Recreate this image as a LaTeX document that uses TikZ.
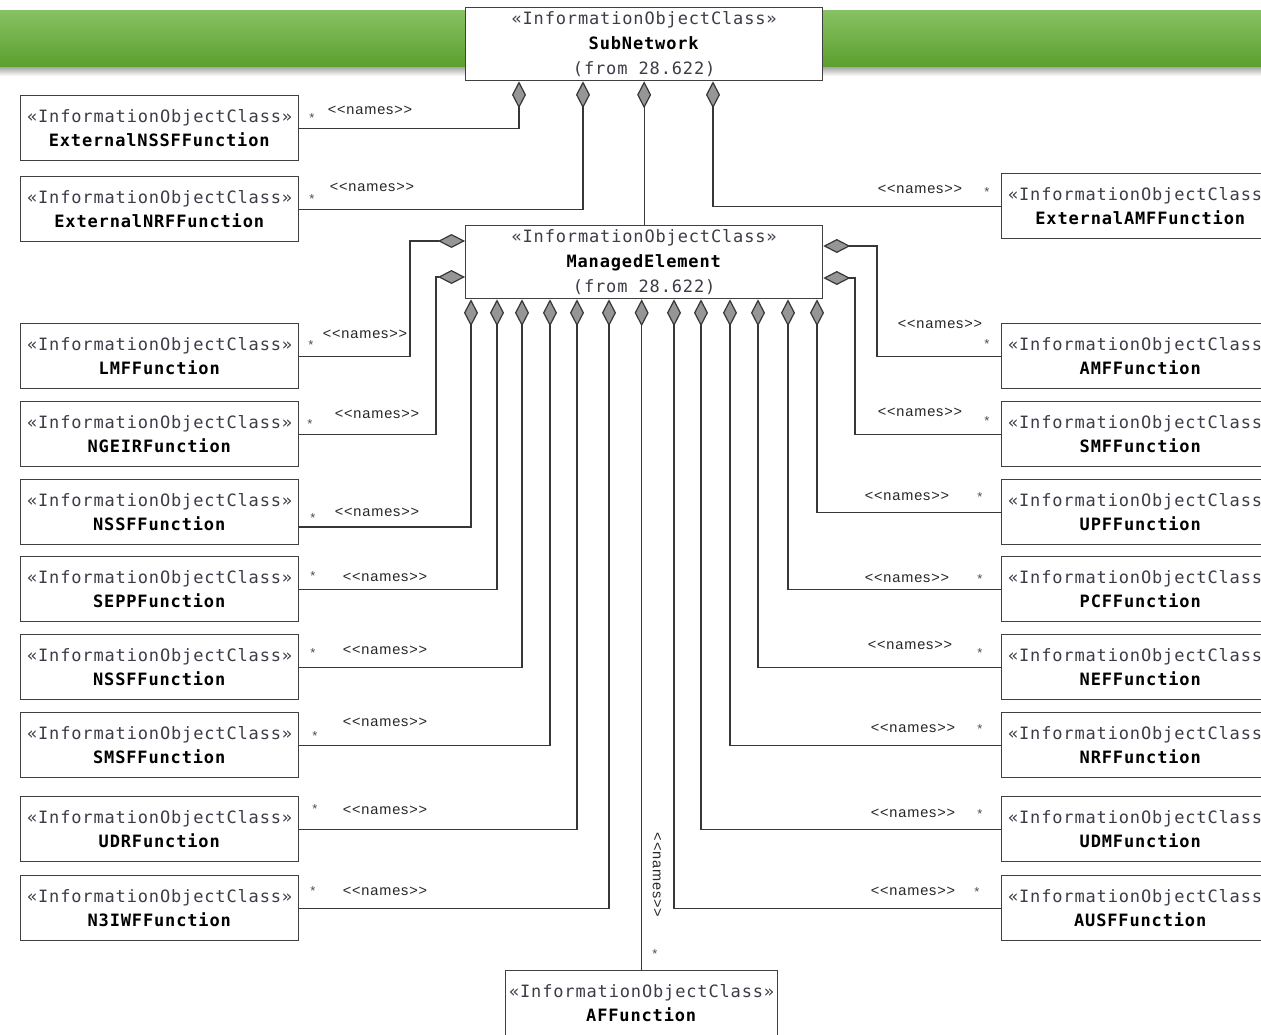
\documentclass[tikz,border=0pt]{standalone}
\usepackage{fontspec}
\setmainfont{Liberation Sans}
\setmonofont{DejaVu Sans Mono}[LetterSpace=5]
\newfontfamily\lblfont{Liberation Sans}[LetterSpace=6]
\usetikzlibrary{arrows.meta}
\definecolor{stereo}{RGB}{60,60,72}
\definecolor{lnk}{RGB}{55,55,55}
\definecolor{dia}{RGB}{150,150,150}
\definecolor{grtop}{RGB}{136,194,100}
\definecolor{grbot}{RGB}{92,158,46}
\begin{document}
\begin{tikzpicture}[x=1pt,y=-1pt,
  ioc/.style={draw=black!75,line width=1.3pt,fill=white,anchor=north west,inner sep=0pt,
    minimum width=278pt,minimum height=65pt,align=center,
    font=\ttfamily\fontsize{17}{24}\selectfont},
  big/.style={ioc,minimum width=357pt,minimum height=73pt,font=\ttfamily\fontsize{17}{25}\selectfont},
  link/.style={draw=lnk,line width=1.2pt},
  comp/.style={link,{Diamond[length=27pt,width=14pt,fill=dia]}-},
  nm/.style={font=\lblfont\fontsize{14.5}{14}\selectfont,text=black!85,inner sep=0pt},
  mult/.style={font=\fontsize{13}{13}\selectfont,text=black!70,inner sep=0pt}]
  \newcommand{\ioc}[4]{
    \node[ioc] (#1) at (#2,#3) {{\color{stereo}«InformationObjectClass»}\\\textbf{#4}};
  }
  \newcommand{\lnames}[3]{
    \node[nm] (#1) at (#2,#3) {<<names>>};
  }
  \newcommand{\mult}[3]{
    \node[mult] (#1) at (#2,#3) {*};
  }
\useasboundingbox (0,0) rectangle (1261,1034);
\clip (0,0) rectangle (1261,1034);

\shade[top color=grtop,bottom color=grbot] (0,10) rectangle (1261,67);
\shade[top color=black!35,bottom color=white] (0,67) rectangle (1261,76);

\node[big] (SN) at (465,7) {{\color{stereo}«InformationObjectClass»}\\\textbf{SubNetwork}\\{\color{stereo}(from 28.622)}};
\node[big] (ME) at (465,225) {{\color{stereo}«InformationObjectClass»}\\\textbf{ManagedElement}\\{\color{stereo}(from 28.622)}};
\node[ioc,minimum width=272pt] (AF) at (505,970) {{\color{stereo}«InformationObjectClass»}\\\textbf{AFFunction}};

\ioc{xnssf}{20}{95}{ExternalNSSFFunction}
\ioc{xnrf}{20}{176}{ExternalNRFFunction}
\ioc{lmf}{20}{323}{LMFFunction}
\ioc{ngeir}{20}{401}{NGEIRFunction}
\ioc{nssfa}{20}{479}{NSSFFunction}
\ioc{sepp}{20}{556}{SEPPFunction}
\ioc{nssfb}{20}{634}{NSSFFunction}
\ioc{smsf}{20}{712}{SMSFFunction}
\ioc{udr}{20}{796}{UDRFunction}
\ioc{n3iwf}{20}{875}{N3IWFFunction}

\ioc{xamf}{1001}{173}{ExternalAMFFunction}
\ioc{amf}{1001}{323}{AMFFunction}
\ioc{smf}{1001}{401}{SMFFunction}
\ioc{upf}{1001}{479}{UPFFunction}
\ioc{pcf}{1001}{556}{PCFFunction}
\ioc{nef}{1001}{634}{NEFFunction}
\ioc{nrf}{1001}{712}{NRFFunction}
\ioc{udm}{1001}{796}{UDMFunction}
\ioc{ausf}{1001}{875}{AUSFFunction}

\draw[comp] (SN.south -| 519,0) |- (xnssf.east);
\draw[comp] (SN.south -| 583,0) |- (xnrf.east);
\draw[comp] (SN.south -| ME.north) -- (ME.north);
\draw[comp] (SN.south -| 713,0) |- (xamf.west);

\draw[comp] (ME.west |- 0,241) -- (410,241) |- (lmf.east);
\draw[comp] (ME.west |- 0,277) -- (436,277) |- (ngeir.east);
\draw[comp] (ME.east |- 0,246) -- (877,246) |- (amf.west);
\draw[comp] (ME.east |- 0,278) -- (855,278) |- (smf.west);

\draw[comp] (ME.south -| 471,0) |- (nssfa.east |- 0,527);
\draw[comp] (ME.south -| 497,0) |- (sepp.east);
\draw[comp] (ME.south -| 522,0) |- (nssfb.east);
\draw[comp] (ME.south -| 550,0) |- (smsf.east);
\draw[comp] (ME.south -| 577,0) |- (udr.east);
\draw[comp] (ME.south -| 609,0) |- (n3iwf.east);
\draw[comp] (ME.south -| AF.north) -- (AF.north);
\draw[comp] (ME.south -| 674,0) |- (ausf.west);
\draw[comp] (ME.south -| 701,0) |- (udm.west);
\draw[comp] (ME.south -| 730,0) |- (nrf.west);
\draw[comp] (ME.south -| 758,0) |- (nef.west);
\draw[comp] (ME.south -| 788,0) |- (pcf.west);
\draw[comp] (ME.south -| 817,0) |- (upf.west);

\lnames{n1}{370}{110} \mult{m1}{312}{118}
\lnames{n2}{372}{187} \mult{m2}{312}{199}
\lnames{n3}{920}{189} \mult{m3}{987}{192}
\lnames{n4}{365}{334} \mult{m4}{311}{345}
\lnames{n5}{377}{414} \mult{m5}{310}{424}
\lnames{n6}{940}{324} \mult{m6}{987}{344}
\lnames{n7}{920}{412} \mult{m7}{987}{421}
\lnames{n8}{377}{512} \mult{m8}{313}{518}
\lnames{n9}{385}{577} \mult{m9}{313}{576}
\lnames{n10}{385}{650} \mult{m10}{313}{653}
\lnames{n11}{385}{722} \mult{m11}{315}{736}
\lnames{n12}{385}{810} \mult{m12}{315}{809}
\lnames{n13}{385}{891} \mult{m13}{313}{891}
\lnames{n14}{907}{496} \mult{m14}{980}{497}
\lnames{n15}{907}{578} \mult{m15}{980}{579}
\lnames{n16}{910}{645} \mult{m16}{980}{653}
\lnames{n17}{913}{728} \mult{m17}{980}{729}
\lnames{n18}{913}{813} \mult{m18}{980}{814}
\lnames{n19}{913}{891} \mult{m19}{977}{892}
\node[nm,rotate=-90] (n20) at (657,875) {<<names>>};
\mult{m20}{655}{954}
\end{tikzpicture}
\end{document}
